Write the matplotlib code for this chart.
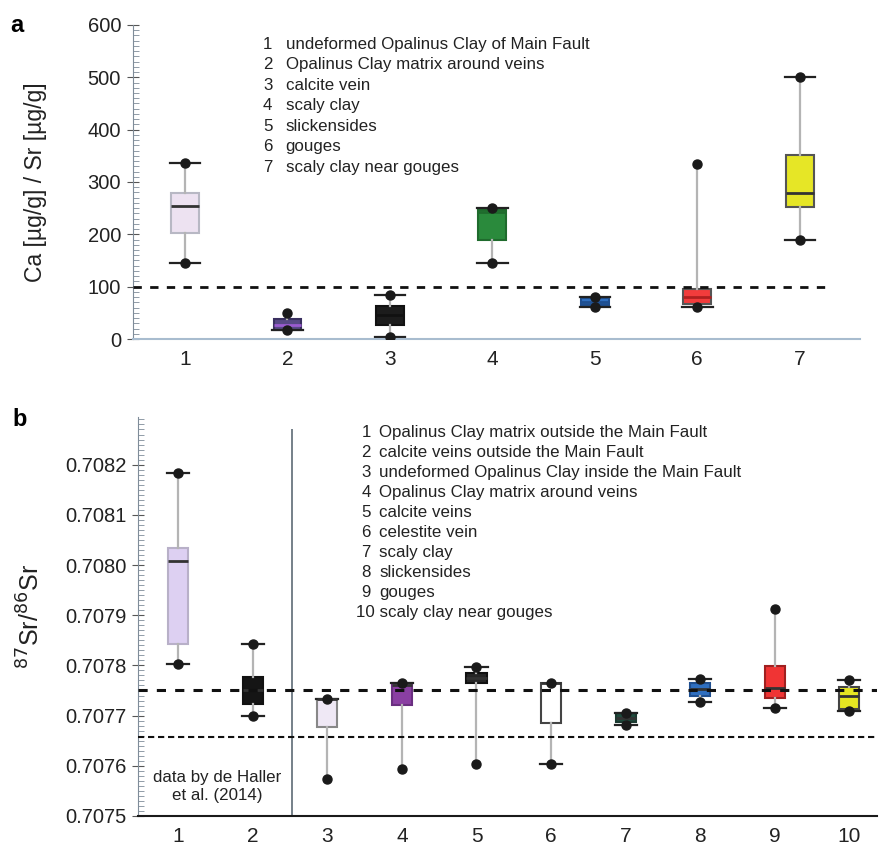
import matplotlib
matplotlib.use("Agg")
import matplotlib.pyplot as plt
from matplotlib.ticker import MultipleLocator, FormatStrFormatter

plt.rcParams['font.family'] = ['Liberation Sans', 'DejaVu Sans']

# panel a: Ca/Sr box statistics (whislo, q1, med, q3, whishi)
ca_labels = ["undeformed Opalinus Clay of Main Fault",
             "Opalinus Clay matrix around veins",
             "calcite vein",
             "scaly clay",
             "slickensides",
             "gouges",
             "scaly clay near gouges"]
ca_whislo = [146, 17, 4, 145, 61, 62, 190]
ca_q1 = [203, 18, 26, 190, 65, 66, 252]
ca_med = [254, 27, 45, 243, 71, 80, 278]
ca_q3 = [278, 38, 64, 246, 78, 96, 352]
ca_whishi = [337, 50, 85, 250, 80, 335, 501]
ca_colors = ['#ede2f1', '#584a86', '#1c1c1c', '#2a8a3c', '#2f6fc0', '#f23c3c', '#e6e626']
ca_median_colors = ['#333333', '#9a5bd0', '#111111', '#1f6b2d', '#1f4f90', '#b02020', '#333333']
ca_edge = ['#b8b8c4', '#3a3060', '#111111', '#1f6b2d', '#1f4f90', '#555555', '#555555']
ca_nocap = [(1, 'hi'), (5, 'hi')]

# panel b: 87Sr/86Sr box statistics
sr_labels = ["Opalinus Clay matrix outside the Main Fault",
             "calcite veins outside the Main Fault",
             "undeformed Opalinus Clay inside the Main Fault",
             "Opalinus Clay matrix around veins",
             "calcite veins",
             "celestite vein",
             "scaly clay",
             "slickensides",
             "gouges",
             "scaly clay near gouges"]
sr_whislo = [0.707802, 0.707699, 0.707573, 0.707593, 0.707603, 0.707603, 0.707682, 0.707727, 0.707715, 0.707709]
sr_q1 = [0.707843, 0.707724, 0.707677, 0.707722, 0.707764, 0.707685, 0.707688, 0.707739, 0.707735, 0.707713]
sr_med = [0.708007, 0.707750, 0.707733, 0.707760, 0.707775, 0.707765, 0.707695, 0.707752, 0.707755, 0.707740]
sr_q3 = [0.708034, 0.707777, 0.707733, 0.707765, 0.707785, 0.707765, 0.707705, 0.707765, 0.707799, 0.707757]
sr_whishi = [0.708183, 0.707843, 0.707733, 0.707765, 0.707797, 0.707765, 0.707705, 0.707773, 0.707912, 0.707771]
sr_colors = ['#ddd0f2', '#151515', '#efe8f5', '#8a3fa2', '#262626', '#ffffff', '#1f4a3c', '#2f6fc0', '#f03434', '#e6e622']
sr_edge = ['#b8b0c8', '#111111', '#888888', '#6a2f80', '#111111', '#444444', '#1a3a30', '#1f4f90', '#a02020', '#444444']
sr_nocap = [(2, 'lo'), (3, 'lo'), (4, 'lo'), (5, 'hi'), (8, 'hi')]

ca_ref = 100
sr_ref_hi = 0.707751
sr_ref_lo = 0.707657

LEG_FS = 12.2


def draw_boxes(ax, whislo, q1, med, q3, whishi, colors, edges, medcols, nocap, width):
    stats = []
    for i in range(len(med)):
        stats.append(dict(whislo=whislo[i], q1=q1[i], med=med[i], q3=q3[i],
                          whishi=whishi[i], fliers=[]))
    pos = list(range(1, len(med) + 1))
    art = ax.bxp(stats, positions=pos, widths=width, patch_artist=True,
                 showfliers=False, capwidths=width * 1.1,
                 whiskerprops=dict(color='#b4b4b4', lw=1.6),
                 capprops=dict(color='#222222', lw=1.6),
                 medianprops=dict(lw=2))
    for i, b in enumerate(art['boxes']):
        b.set_facecolor(colors[i])
        b.set_edgecolor(edges[i])
        b.set_linewidth(1.5)
        art['medians'][i].set_color(medcols[i])
    for i, end in nocap:
        art['caps'][2 * i + (0 if end == 'lo' else 1)].set_visible(False)
    ax.plot(pos, whislo, 'o', color='#1a1a1a', ms=6.5, zorder=5)
    ax.plot(pos, whishi, 'o', color='#1a1a1a', ms=6.5, zorder=5)


def style_axis(ax, bottom_color):
    ax.spines['top'].set_visible(False)
    ax.spines['right'].set_visible(False)
    ax.spines['left'].set_color('#7f8c99')
    ax.spines['bottom'].set_color(bottom_color)
    ax.spines['bottom'].set_linewidth(1.5)
    ax.tick_params(axis='y', which='major', direction='inout', length=9,
                   color='#555555', labelsize=14.5, labelcolor='#222222', pad=4)
    ax.tick_params(axis='y', which='minor', direction='in', length=4, color='#7f8c99')
    ax.tick_params(axis='x', length=0, labelsize=15, labelcolor='#222222', pad=8)


fig = plt.figure(figsize=(8.8, 8.49), dpi=100)

# ---- panel a
ax1 = fig.add_axes([0.151, 0.6007, 0.826, 0.3699])
draw_boxes(ax1, ca_whislo, ca_q1, ca_med, ca_q3, ca_whishi, ca_colors, ca_edge,
           ca_median_colors, ca_nocap, 0.27)
ax1.hlines(ca_ref, 0.493, 7.32, colors='#111111', linestyles=(0, (3, 3)), lw=2, zorder=4)
ax1.set_xlim(0.493, 7.585)
ax1.set_ylim(0, 600)
ax1.yaxis.set_major_locator(MultipleLocator(100))
ax1.yaxis.set_minor_locator(MultipleLocator(10))
ax1.set_xticks(range(1, 8))
ax1.set_xticklabels([str(i) for i in range(1, 8)])
ax1.set_ylabel("Ca [µg/g] / Sr [µg/g]", fontsize=16.5, color='#222222')
ax1.yaxis.set_label_coords(-0.118, 0.5)
style_axis(ax1, '#a8bccf')
for i, lab in enumerate(ca_labels):
    y = 0.939 - i * 0.0653
    ax1.text(0.179, y, str(i + 1), transform=ax1.transAxes, fontsize=LEG_FS,
             color='#222222', va='center')
    ax1.text(0.210, y, lab, transform=ax1.transAxes, fontsize=LEG_FS,
             color='#222222', va='center')

# ---- panel b
ax2 = fig.add_axes([0.157, 0.0389, 0.840, 0.470])
draw_boxes(ax2, sr_whislo, sr_q1, sr_med, sr_q3, sr_whishi, sr_colors, sr_edge,
           ['#333333'] * 10, sr_nocap, 0.27)
ax2.axhline(sr_ref_hi, color='#111111', ls=(0, (3, 3)), lw=2.2, zorder=4)
ax2.axhline(sr_ref_lo, color='#111111', ls=(0, (3, 1.8)), lw=1.5, zorder=4)
ax2.vlines(2.53, 0.7075, 0.70827, colors='#6a7680', lw=1.3)
ax2.set_xlim(0.464, 10.375)
ax2.set_ylim(0.7075, 0.708295)
ax2.yaxis.set_major_locator(MultipleLocator(0.0001))
ax2.yaxis.set_minor_locator(MultipleLocator(0.00001))
ax2.yaxis.set_major_formatter(FormatStrFormatter('%.4f'))
ax2.set_xticks(range(1, 11))
ax2.set_xticklabels([str(i) for i in range(1, 11)])
ax2.set_ylabel(r'$^{87}$Sr/$^{86}$Sr', fontsize=18, color='#222222')
ax2.yaxis.set_label_coords(-0.127, 0.5)
style_axis(ax2, '#1a1a1a')
for i, lab in enumerate(sr_labels):
    y = 0.962 - i * 0.0501
    n = i + 1
    if n < 10:
        ax2.text(0.302, y, str(n), transform=ax2.transAxes, fontsize=LEG_FS,
                 color='#222222', va='center')
        ax2.text(0.326, y, lab, transform=ax2.transAxes, fontsize=LEG_FS,
                 color='#222222', va='center')
    else:
        ax2.text(0.295, y, f"{n} {lab}", transform=ax2.transAxes, fontsize=LEG_FS,
                 color='#222222', va='center')
ax2.text(1.52, 0.707558, "data by de Haller\net al. (2014)", ha='center', va='center',
         fontsize=LEG_FS, color='#222222', linespacing=1.25)

fig.text(17 / 880, 1 - 26 / 849, "a", fontsize=17, fontweight='bold', ha='center', va='center')
fig.text(20 / 880, 1 - 420 / 849, "b", fontsize=17, fontweight='bold', ha='center', va='center')

fig.savefig("out.png", dpi=100)
